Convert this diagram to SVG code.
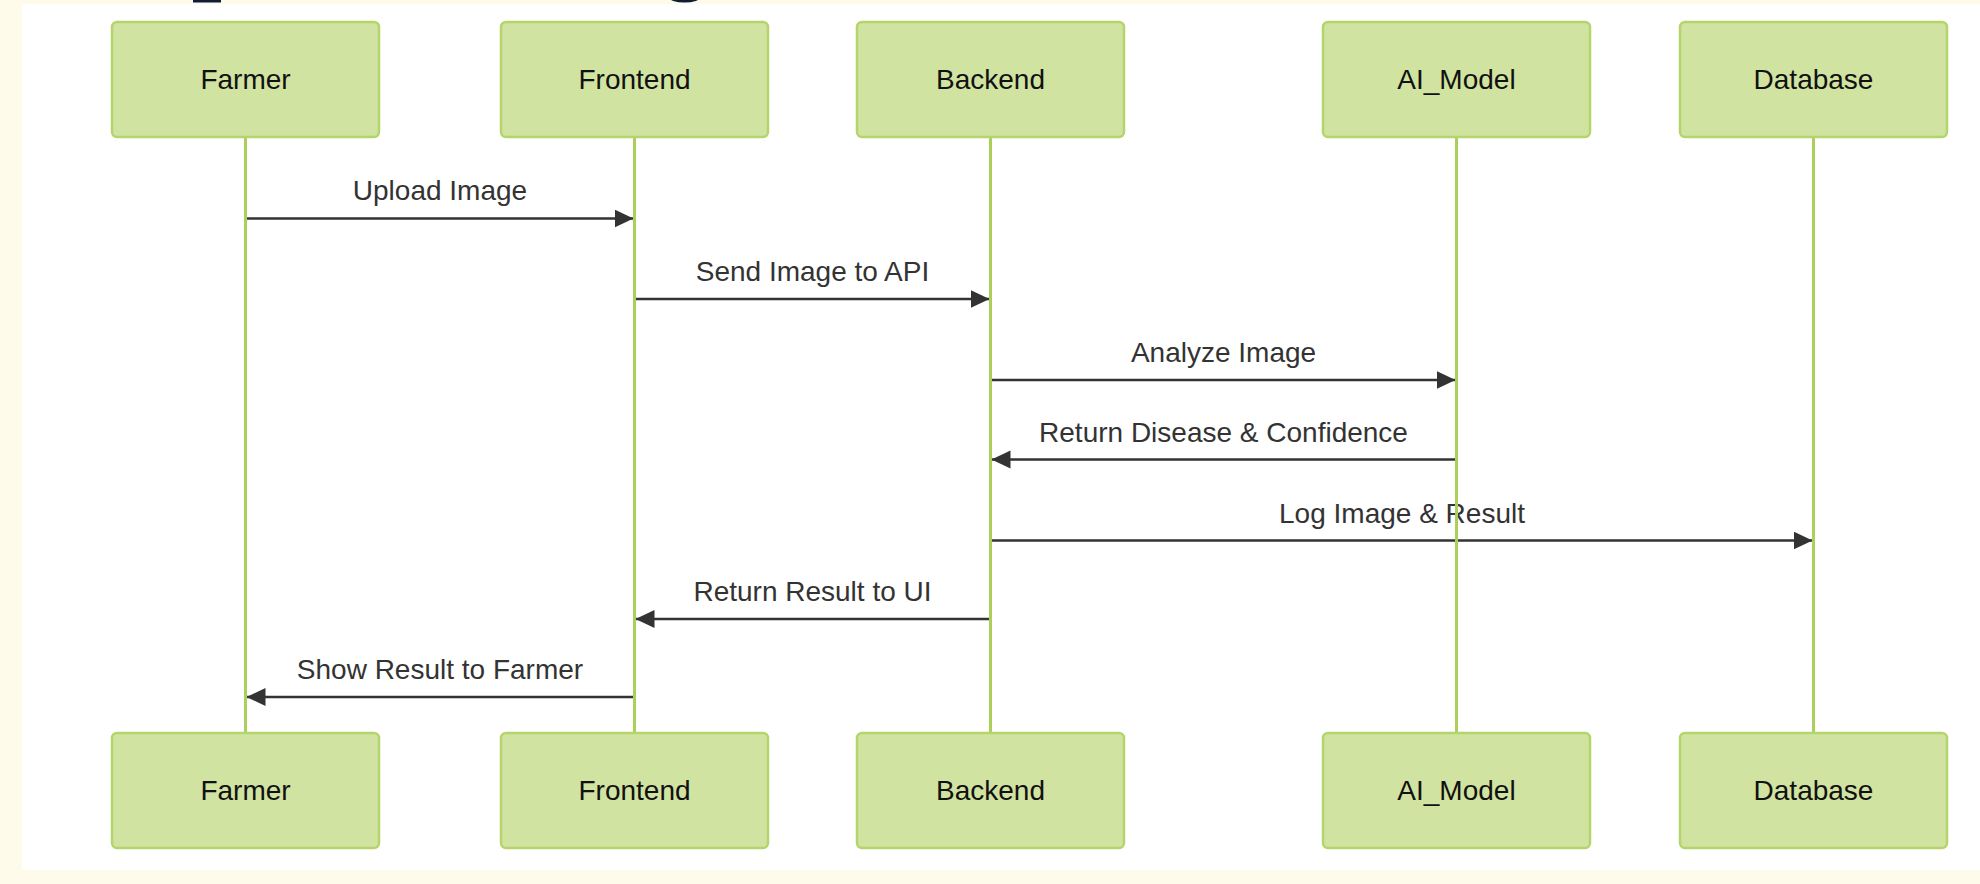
<svg xmlns="http://www.w3.org/2000/svg" width="1980" height="884" viewBox="0 0 1980 884">
<style>
.actor rect{fill:#d1e3a0;stroke:#b4d46c;stroke-width:2.5}
.actor text{font-family:"Liberation Sans",Arial,sans-serif;font-size:28px;fill:#111;text-anchor:middle;dominant-baseline:central}
.life{stroke:#abd05a;stroke-width:3}
.msg line{stroke:#333;stroke-width:2.6}
.msg text{font-family:"Liberation Sans",Arial,sans-serif;font-size:28px;fill:#333;text-anchor:middle}
.frag{fill:#0f1d38}
</style>
<defs>
<marker id="arrow" markerUnits="userSpaceOnUse" markerWidth="20" markerHeight="20" viewBox="0 0 20 20" refX="19" refY="9" orient="auto">
<path d="M0,0 L19,9 L0,18 z" fill="#333"/>
</marker>
</defs>
<rect x="0" y="0" width="1980" height="884" fill="#fffbea"/>
<rect class="frag" x="193" y="0" width="28" height="2.5"/>
<ellipse class="frag" cx="684.5" cy="-3" rx="16" ry="5.5"/>
<rect x="22" y="4" width="1958" height="866" fill="#ffffff"/>

<g id="connectors" class="msg">
<g id="msg1"><text x="440" y="200">Upload Image</text><line x1="246" y1="218.5" x2="633.5" y2="218.5" marker-end="url(#arrow)"/></g>
<g id="msg2"><text x="812.5" y="281">Send Image to API</text><line x1="635" y1="299" x2="989.5" y2="299" marker-end="url(#arrow)"/></g>
<g id="msg3"><text x="1223.5" y="362">Analyze Image</text><line x1="991" y1="380" x2="1455.5" y2="380" marker-end="url(#arrow)"/></g>
<g id="msg4"><text x="1223.5" y="441.5">Return Disease &amp; Confidence</text><line x1="1456" y1="459.5" x2="991.5" y2="459.5" marker-end="url(#arrow)"/></g>
<g id="msg5"><text x="1402" y="522.5">Log Image &amp; Result</text><line x1="991" y1="540.5" x2="1812.5" y2="540.5" marker-end="url(#arrow)"/></g>
<g id="msg6"><text x="812.5" y="601">Return Result to UI</text><line x1="990" y1="619" x2="635.5" y2="619" marker-end="url(#arrow)"/></g>
<g id="msg7"><text x="440" y="679">Show Result to Farmer</text><line x1="634" y1="697" x2="246.5" y2="697" marker-end="url(#arrow)"/></g>
</g>

<g id="lifelines">
<line class="life" x1="245.5" y1="137" x2="245.5" y2="733"/>
<line class="life" x1="634.5" y1="137" x2="634.5" y2="733"/>
<line class="life" x1="990.5" y1="137" x2="990.5" y2="733"/>
<line class="life" x1="1456.5" y1="137" x2="1456.5" y2="733"/>
<line class="life" x1="1813.5" y1="137" x2="1813.5" y2="733"/>
</g>

<g id="farmer" class="actor">
<rect x="112" y="22" width="267" height="115" rx="5"/><text x="245.5" y="79.5">Farmer</text>
</g>
<g id="frontend" class="actor">
<rect x="501" y="22" width="267" height="115" rx="5"/><text x="634.5" y="79.5">Frontend</text>
</g>
<g id="backend" class="actor">
<rect x="857" y="22" width="267" height="115" rx="5"/><text x="990.5" y="79.5">Backend</text>
</g>
<g id="ai_model" class="actor">
<rect x="1323" y="22" width="267" height="115" rx="5"/><text x="1456.5" y="79.5">AI_Model</text>
</g>
<g id="database" class="actor">
<rect x="1680" y="22" width="267" height="115" rx="5"/><text x="1813.5" y="79.5">Database</text>
</g>

<g id="farmer-bottom" class="actor">
<rect x="112" y="733" width="267" height="115" rx="5"/><text x="245.5" y="790.5">Farmer</text>
</g>
<g id="frontend-bottom" class="actor">
<rect x="501" y="733" width="267" height="115" rx="5"/><text x="634.5" y="790.5">Frontend</text>
</g>
<g id="backend-bottom" class="actor">
<rect x="857" y="733" width="267" height="115" rx="5"/><text x="990.5" y="790.5">Backend</text>
</g>
<g id="ai_model-bottom" class="actor">
<rect x="1323" y="733" width="267" height="115" rx="5"/><text x="1456.5" y="790.5">AI_Model</text>
</g>
<g id="database-bottom" class="actor">
<rect x="1680" y="733" width="267" height="115" rx="5"/><text x="1813.5" y="790.5">Database</text>
</g>
</svg>
